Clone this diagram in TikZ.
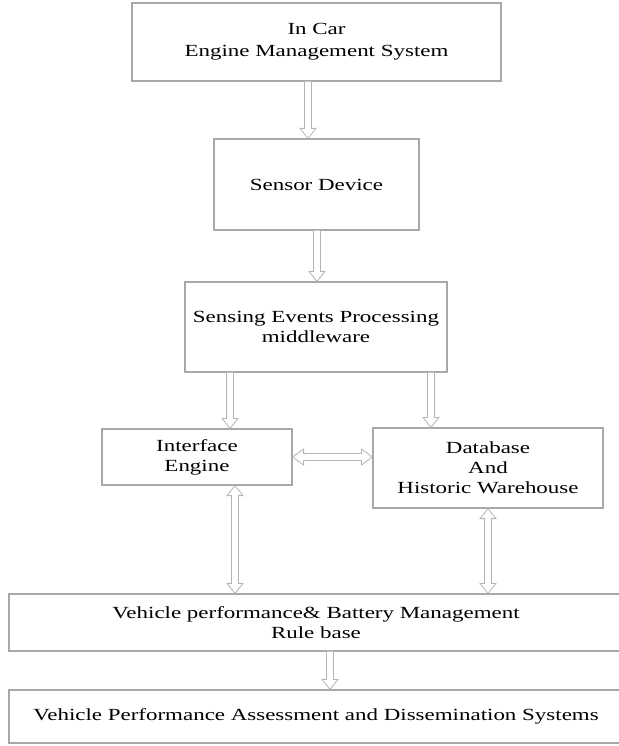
\documentclass[tikz,border=0pt]{standalone}
\usepackage{fontspec}
\setmainfont{Liberation Serif}[FakeStretch=1.35]
\usepackage{tikz}
\usetikzlibrary{calc}
\usepackage{xcolor}

\definecolor{boxgray}{HTML}{A8A8A8}
\definecolor{arrowgray}{HTML}{B4B4B4}

\tikzset{
	box/.style={draw=boxgray, line width=1.2pt, align=center, inner sep=0pt,
		text=black, font=\fontsize{17}{20}\selectfont},
	flowline/.style={draw=arrowgray, line width=0.8pt, fill=white}
}

% one-way block arrow, downwards
\newcommand{\flowdown}[3]{%
	\draw[flowline] let \p0=(#1), \p1=(#2.south), \p2=(#3.north) in
		(\x0-3.5pt,\y1) -- (\x0-3.5pt,\y2+10pt) -- (\x0-8pt,\y2+10pt) -- (\x0,\y2)
		-- (\x0+8pt,\y2+10pt) -- (\x0+3.5pt,\y2+10pt) -- (\x0+3.5pt,\y1);
}
% two-way block arrow, vertical
\newcommand{\flowupdown}[3]{%
	\draw[flowline] let \p0=(#1), \p1=(#2.south), \p2=(#3.north) in
		(\x0,\y1) -- (\x0-8pt,\y1-10pt) -- (\x0-3.5pt,\y1-10pt) -- (\x0-3.5pt,\y2+10pt)
		-- (\x0-8pt,\y2+10pt) -- (\x0,\y2) -- (\x0+8pt,\y2+10pt) -- (\x0+3.5pt,\y2+10pt)
		-- (\x0+3.5pt,\y1-10pt) -- (\x0+8pt,\y1-10pt) -- cycle;
}
% two-way block arrow, horizontal
\newcommand{\flowleftright}[2]{%
	\draw[flowline] let \p1=(#1.east), \p2=(#2.west) in
		(\x1,\y1) -- (\x1+11pt,\y1+8pt) -- (\x1+11pt,\y1+3.5pt) -- (\x2-11pt,\y1+3.5pt)
		-- (\x2-11pt,\y1+8pt) -- (\x2,\y1) -- (\x2-11pt,\y1-8pt) -- (\x2-11pt,\y1-3.5pt)
		-- (\x1+11pt,\y1-3.5pt) -- (\x1+11pt,\y1-8pt) -- cycle;
}

\begin{document}
\begin{tikzpicture}[x=1pt, y=-1pt]
	\useasboundingbox (0,0) rectangle (618,746);

	\node[box, minimum width=369pt, minimum height=78pt, font=\fontsize{17}{22}\selectfont]
		(ecu) at (316.5,42) {In Car\\Engine Management System};
	\node[box, minimum width=205pt, minimum height=91pt] (sensor) at (316.5,184.5) {Sensor Device};
	\node[box, minimum width=262pt, minimum height=90pt] (sense) at (316,327)
		{Sensing Events Processing\\middleware};
	\node[box, minimum width=190pt, minimum height=56pt] (iface) at (197,457) {Interface\\Engine};
	\node[box, minimum width=230pt, minimum height=80pt] (dbase) at (488,468)
		{Database\\And\\Historic Warehouse};
	\node[box, minimum width=614pt, minimum height=57pt] (rules) at (316,622.5)
		{Vehicle performance\& Battery Management\\Rule base};
	\node[box, minimum width=614pt, minimum height=53pt] (assess) at (316,716.5)
		{Vehicle Performance Assessment and Dissemination Systems};

	\flowdown{$(ecu.south)+(-8.5,0)$}{ecu}{sensor}
	\flowdown{$(sensor.south)+(0.5,0)$}{sensor}{sense}
	\flowdown{$(iface.north)+(33,0)$}{sense}{iface}
	\flowdown{$(dbase.north)+(-57,0)$}{sense}{dbase}
	\flowleftright{iface}{dbase}
	\flowupdown{$(iface.south)+(38,0)$}{iface}{rules}
	\flowupdown{dbase.south}{dbase}{rules}
	\flowdown{$(rules.south)+(14,0)$}{rules}{assess}
\end{tikzpicture}
\end{document}
